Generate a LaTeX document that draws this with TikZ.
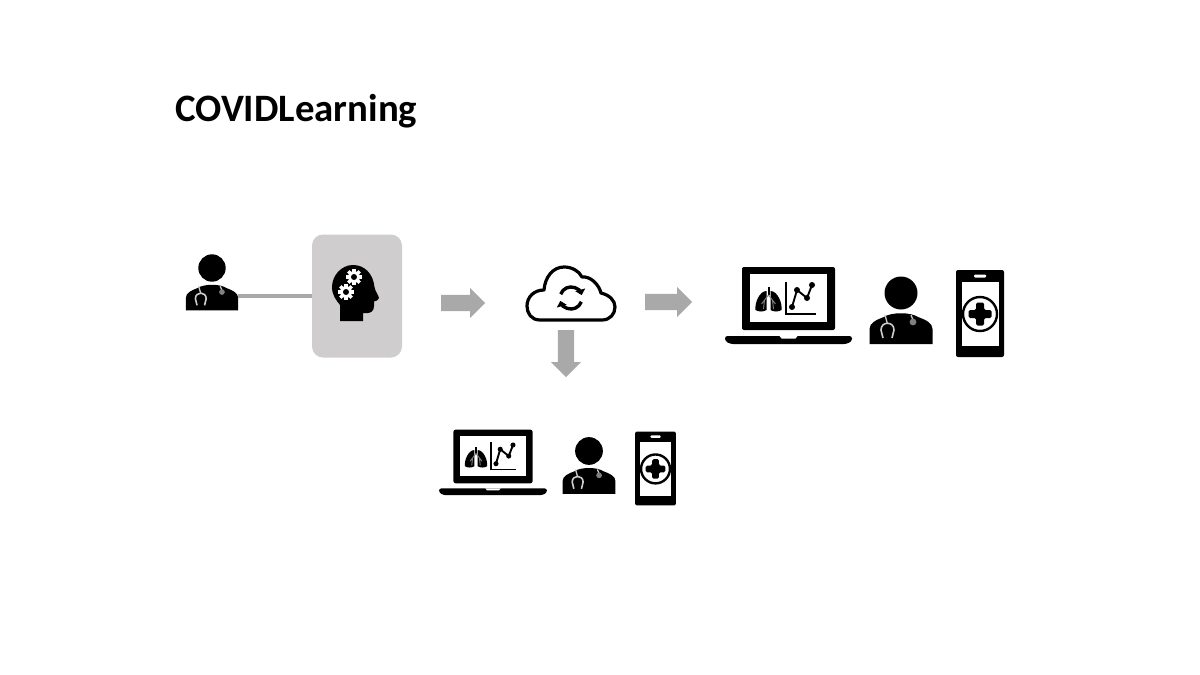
\documentclass[tikz,border=0pt]{standalone}
\usepackage{fontspec}
\setmainfont{Carlito}
\usetikzlibrary{arrows.meta,shapes.arrows}
\definecolor{boxgray}{HTML}{CFCDCE}
\definecolor{arrowgray}{HTML}{A9A9A9}
\tikzset{
  blockarrow/.style={single arrow,fill=arrowgray,draw=none,inner xsep=0pt,inner ysep=8pt,
    minimum height=#1,minimum width=30,single arrow head extend=7,anchor=tail},
  linkline/.style={draw=arrowgray,line width=3.6},
  pics/doctor/.style={code={
    \fill (0,0) circle (16.5);
    \fill (-31.5,51) -- (-31.5,36) .. controls (-31.5,30) and (-25,27) .. (-17,24)
      .. controls (-10,19) and (10,19) .. (17,24)
      .. controls (25,27) and (31.5,30) .. (31.5,36) -- (31.5,51) -- cycle;
    \draw[white!80!black,line width=1.6] (-18,45) -- (-20,37) .. controls (-20,28) and (-7,28) .. (-7,37) -- (-9,45);
    \draw[white!80!black,line width=1.3] (-13.5,31) -- (-16,22);
    \draw[white!80!black,line width=1.3] (10,22) -- (12,27);
    \fill[gray] (12,29) circle (3.4);
    \coordinate (-port) at (31.5,33.7);
  }},
  pics/laptop/.style={code={
    \fill[rounded corners=2] (-46.5,-38) rectangle (46.5,25);
    \fill[white] (-38.5,-31) rectangle (38.5,17);
    \fill[rounded corners=2.5] (-63.5,31) -- (63.5,31) -- (63.5,36) -- (58,39) -- (-58,39) -- (-63.5,36) -- cycle;
    \fill[white] (-9,31) -- (9,31) -- (7,33.5) -- (-7,33.5) -- cycle;
    \draw[line width=1.6] (-2.5,-23) -- (-2.5,9) -- (27.5,9);
    \draw[line width=1.9] (3.5,2) -- (8.5,-15) -- (18.5,-7) -- (23.5,-20);
    \foreach \px/\py in {3.5/2,8.5/-15,18.5/-7,23.5/-20}
      \fill (\px,\py) circle (3);
    \fill (-21,-18) rectangle (-19,-10);
    \fill (-22,-14) .. controls (-29,-14) and (-34,-2) .. (-33,5) .. controls (-30,7) and (-25,7) .. (-22,5) -- cycle;
    \fill (-18,-14) .. controls (-11,-14) and (-6,-2) .. (-7,5) .. controls (-10,7) and (-15,7) .. (-18,5) -- cycle;
    \draw[gray,line width=.9] (-20,-10) -- (-27,-1) (-24,-5) -- (-25,4) (-20,-10) -- (-13,-1) (-16,-5) -- (-15,4);
  }},
  pics/phone/.style={code={
    \fill[rounded corners=2] (-24,-43.5) rectangle (24,43.5);
    \fill[white] (-18.5,-31.5) rectangle (18.5,32.5);
    \fill[white,rounded corners=1] (-6,-39) rectangle (6,-36);
    \draw[fill=white,line width=2.4] (0,.5) circle (17);
    \fill[rounded corners=1.5] (-4,-11) -- (4,-11) -- (4,-3.5) -- (11.5,-3.5) -- (11.5,4.5) -- (4,4.5)
      -- (4,12) -- (-4,12) -- (-4,4.5) -- (-11.5,4.5) -- (-11.5,-3.5) -- (-4,-3.5) -- cycle;
  }},
  pics/gear/.style={code={
    \foreach \ang in {0,45,...,315}
      \fill[white,rotate=\ang] (-1.7,3) rectangle (1.7,8);
    \fill[white] (0,0) circle (5.9);
    \fill (0,0) circle (3);
  }},
  pics/brainhead/.style={code={
    \fill (-16,28) -- (7,28) -- (7,20) .. controls (11,20.5) and (16,20.5) .. (17.5,16)
      .. controls (18.5,13) and (18,11) .. (18,8.5) .. controls (20,8) and (23,7) .. (23,5)
      .. controls (22,1) and (19,-2) .. (18.5,-6)
      .. controls (17,-20) and (8,-28) .. (-3,-28)
      .. controls (-15,-28) and (-24,-17) .. (-24,-6)
      .. controls (-24,2) and (-20,7) .. (-16,12) -- cycle;
    \pic at (-2,-16) {gear};
    \pic at (-10,-1) {gear};
  }},
  pics/syncloud/.style={code={
    \draw[line width=3.2,line join=round] (-31,26) .. controls (-40,26) and (-44,19) .. (-44,12)
      .. controls (-44,3) and (-37,-4) .. (-27,-4)
      .. controls (-26,-17) and (-18,-27) .. (-7,-27)
      .. controls (1,-27) and (8,-23) .. (11,-17)
      .. controls (20,-18) and (28,-9) .. (30,-1)
      .. controls (38,1) and (44,6) .. (44,13)
      .. controls (44,20) and (39,26) .. (31,26) -- cycle;
    \draw[line width=3.4,-{Triangle[length=5.5,width=10]}] (-10.3,.2) arc[start angle=200,end angle=345,radius=11];
    \draw[line width=3.4,-{Triangle[length=5.5,width=10]}] (10.3,7.8) arc[start angle=20,end angle=165,radius=11];
  }},
}
\begin{document}
\begin{tikzpicture}[x=1pt,y=-1pt]
    \useasboundingbox (0,0) rectangle (1200,675);
    \node[anchor=base west,inner sep=0pt,font=\bfseries\fontsize{38.8}{38.8}\selectfont] (title) at (175,121.5) {COVIDLearning};

    \pic[scale=.83] (docleft) at (212,268) {doctor};
    \node[fill=boxgray,rounded corners=11,minimum width=90,minimum height=123,inner sep=0pt] (brainbox) at (357,296) {};
    \pic at (356,293) {brainhead};
    \draw[linkline] (docleft-port) -- (brainbox);

    \node[blockarrow=44] (arrowa) at (441,303) {};
    \pic at (571,294) {syncloud};
    \node[blockarrow=47] (arrowb) at (645,302) {};
    \node[blockarrow=47,rotate=-90] (arrowc) at (566,330) {};

    \pic at (788.5,305) {laptop};
    \pic at (901,293) {doctor};
    \pic at (980,313.5) {phone};

    \pic[scale=.85] at (493,462) {laptop};
    \pic[scale=.84] at (589,451) {doctor};
    \pic[scale=.85] at (655.5,468.5) {phone};
\end{tikzpicture}
\end{document}
